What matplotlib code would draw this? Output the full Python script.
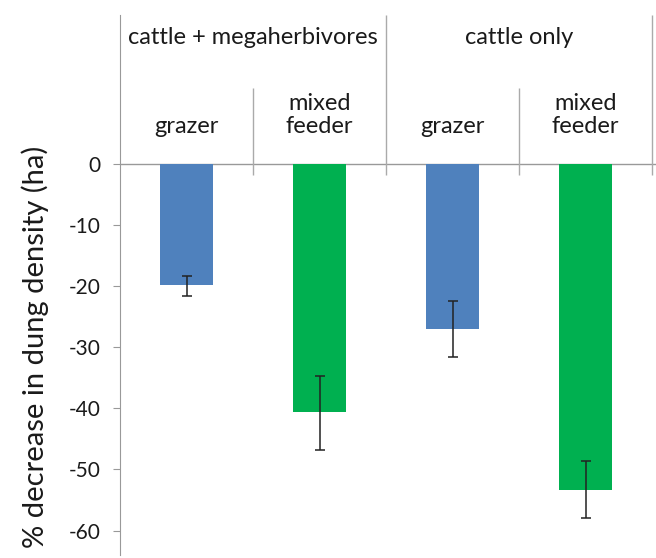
import matplotlib
matplotlib.use("Agg")
import matplotlib.pyplot as plt

groups = ["cattle + megaherbivores", "cattle only"]
subcats = ["grazer", "mixed\nfeeder", "grazer", "mixed\nfeeder"]
values = [-19.8, -40.6, -27.1, -53.3]
err_low = [-21.6, -46.8, -31.7, -58.0]
err_high = [-18.3, -34.8, -22.5, -48.7]
colors = ["#4F81BD", "#00B050", "#4F81BD", "#00B050"]
yticks = [0, -10, -20, -30, -40, -50, -60]

plt.rcParams['font.family'] = ['Lato', 'DejaVu Sans']

fig = plt.figure(figsize=(6.56, 5.58), dpi=100)
ax = fig.add_axes([120/656, 3/558, 1 - 120/656, (555-15)/558])

x = list(range(len(values)))
ax.bar(x, values, width=0.4, color=colors, zorder=2)
yerr = [[v - lo for v, lo in zip(values, err_low)], [hi - v for v, hi in zip(values, err_high)]]
ax.errorbar(x, values, yerr=yerr, fmt='none', ecolor='#222222', elinewidth=1.1,
            capsize=3.5, capthick=1.1, zorder=3)

top = 24.3
ax.set_ylim(-64, top)
ax.set_xlim(-0.5, 3.53)
ax.axhline(0, color='#999999', lw=1.0, zorder=1)

# header separators
ax.vlines([1.5, 3.5], -1.8, top, color='#aaaaaa', lw=1.0)
ax.vlines([0.5, 2.5], -1.8, 12.3, color='#aaaaaa', lw=1.0)

for i, g in enumerate(groups):
    ax.text(2*i + 0.5, 20.6, g, ha='center', va='center', fontsize=17, color='#1a1a1a')
for i, s in enumerate(subcats):
    ax.text(i, 4.4, s, ha='center', va='bottom', fontsize=17, color='#1a1a1a',
            linespacing=1.1)

ax.set_yticks(yticks)
ax.set_yticklabels([str(t) for t in yticks], fontsize=15, color='#1a1a1a')
ax.set_xticks([])
for s in ['top', 'right', 'bottom']:
    ax.spines[s].set_visible(False)
ax.spines['left'].set_color('#999999')
ax.tick_params(axis='y', length=5, color='#999999', pad=9)
ax.set_ylabel("% decrease in dung density (ha)", fontsize=21, color='#1a1a1a')
ax.yaxis.set_label_coords(-(120-49)/536, 0.385)

fig.savefig("out.png", dpi=100)
